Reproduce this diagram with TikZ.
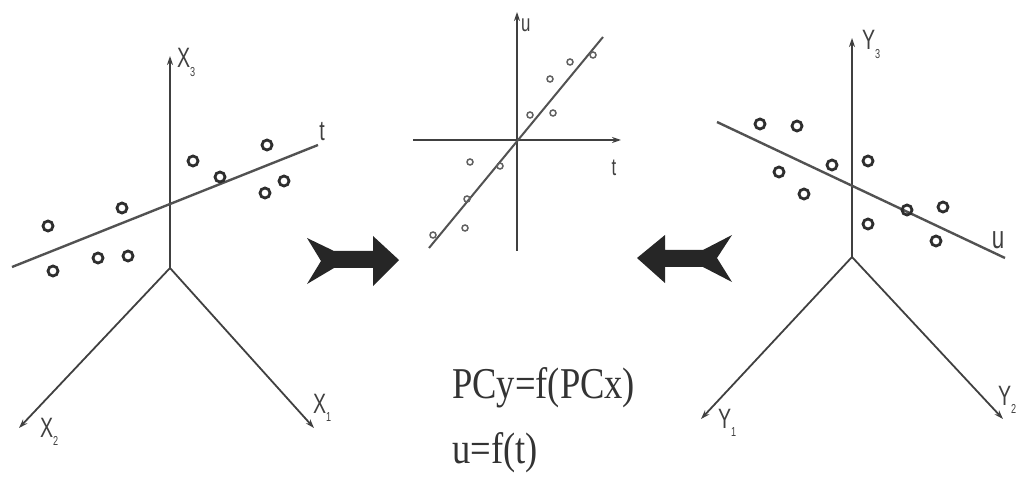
\documentclass[tikz,border=0pt]{standalone}
\usepackage{fontspec}
\setmainfont{Liberation Serif}
\newfontfamily\lsans{Liberation Sans}
\usetikzlibrary{arrows.meta}
\newcommand{\sbx}[1]{\raisebox{-0.3em}{\fontsize{13}{13}\selectfont #1}}
\begin{document}
\begin{tikzpicture}[x=1pt,y=-1pt,
  axis/.style={draw=black!75, line width=1.8pt, -{Stealth[length=9pt,width=6pt]}},
  pline/.style={draw=black!68, line width=2.4pt},
  dot/.style={circle, draw=black!82, line width=2.8pt, minimum size=10pt, inner sep=0pt},
  sdot/.style={circle, draw=black!62, line width=1.5pt, minimum size=6pt, inner sep=0pt},
  lab/.style={font=\lsans\fontsize{28}{28}\selectfont, text=black!75, inner sep=0pt, xscale=0.7},
  eq/.style={font=\fontsize{44}{44}\selectfont, text=black!80, inner sep=0pt, xscale=0.83, anchor=base west},
  barrow/.style={fill=black!85, draw=none}
]
\useasboundingbox (0,0) rectangle (1023,481);

% ---------- left 3D axes ----------
\coordinate (LO) at (170,268);
\coordinate (LX3) at (170,56);
\coordinate (LX2) at (19,428);
\coordinate (LX1) at (314,428);
\draw[axis] (LO) -- (LX3);
\draw[axis] (LO) -- (LX2);
\draw[axis] (LO) -- (LX1);
\node[lab, anchor=base west] (lx3) at (177,68) {X\sbx{3}};
\node[lab, anchor=base west] (lx2) at (40,437) {X\sbx{2}};
\node[lab, anchor=base west] (lx1) at (313,413) {X\sbx{1}};
\coordinate (Lt0) at (12,267);
\coordinate (Lt1) at (318,145);
\draw[pline] (Lt0) -- (Lt1);
\node[lab, anchor=base] (lt) at (322,141) {t};
\foreach \p [count=\i] in {(48,226),(53,271),(98,258),(128,256),(122,208),(193,161),(220,177),(267,145),(265,193),(284,181)}
  \node[dot] (ld\i) at \p {};

% ---------- middle 2D plot ----------
\coordinate (MO) at (517,140);
\coordinate (Mu) at (517,12);
\coordinate (Mb) at (517,251);
\coordinate (Ml) at (413,140);
\coordinate (Mt) at (621,140);
\draw[axis, line width=1.5pt] (Mb) -- (Mu);
\draw[axis, line width=1.5pt] (Ml) -- (Mt);
\node[lab, anchor=base west, font=\lsans\fontsize{24}{24}\selectfont] (mu) at (521,32) {u};
\node[lab, anchor=base, font=\lsans\fontsize{24}{24}\selectfont] (mt) at (614,176) {t};
\coordinate (Mp0) at (429,248);
\coordinate (Mp1) at (603,37);
\draw[pline, line width=2pt] (Mp0) -- (Mp1);
\foreach \p [count=\i] in {(433,235),(465,228),(467,199),(470,162),(500,166),(530,115),(553,113),(550,79),(570,62),(593,55)}
  \node[sdot] (md\i) at \p {};

% ---------- right 3D axes ----------
\coordinate (RO) at (852,257);
\coordinate (RY3) at (852,38);
\coordinate (RY1) at (701,419);
\coordinate (RY2) at (1003,419);
\draw[axis] (RO) -- (RY3);
\draw[axis] (RO) -- (RY1);
\draw[axis] (RO) -- (RY2);
\node[lab, anchor=base west] (ry3) at (862,50) {Y\sbx{3}};
\node[lab, anchor=base west] (ry1) at (718,428) {Y\sbx{1}};
\node[lab, anchor=base west] (ry2) at (998,405) {Y\sbx{2}};
\coordinate (Ru0) at (717,122);
\coordinate (Ru1) at (1005,258);
\draw[pline] (Ru0) -- (Ru1);
\node[lab, anchor=base, font=\lsans\fontsize{32}{32}\selectfont] (ru) at (998,248) {u};
\foreach \p [count=\i] in {(760,124),(797,126),(779,172),(804,194),(832,165),(868,161),(868,224),(907,210),(943,207),(936,241)}
  \node[dot] (rd\i) at \p {};

% ---------- block arrows ----------
\fill[barrow] (307,238) -- (334,251) -- (373,251) -- (373,236) -- (399,260)
  -- (373,286) -- (373,268) -- (334,268) -- (307,284) -- (321,261) -- cycle;
\fill[barrow] (637,258) -- (665,235) -- (665,250) -- (703,250) -- (732,235)
  -- (717,258) -- (732,282) -- (703,267) -- (665,267) -- (665,283) -- cycle;

% ---------- equations ----------
\node[eq] (eq1) at (452,398) {PCy=f(PCx)};
\node[eq] (eq2) at (452,463) {u=f(t)};
\end{tikzpicture}
\end{document}
